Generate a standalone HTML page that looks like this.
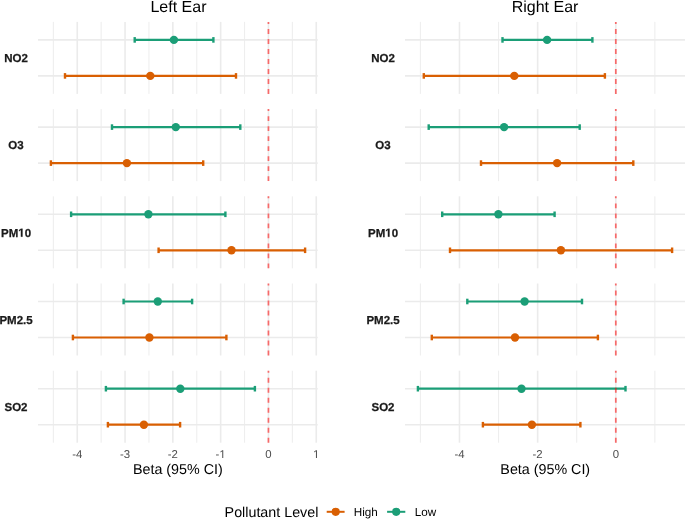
<!DOCTYPE html>
<html><head><meta charset="utf-8"><style>
html,body{margin:0;padding:0;background:#fff;}
body{width:685px;height:519px;overflow:hidden;}
svg{display:block;}
#w{will-change:transform;width:685px;height:519px;}
text{font-family:"Liberation Sans",sans-serif;text-rendering:geometricPrecision;}
.strip{font-size:11.5px;font-weight:bold;fill:#1A1A1A;stroke:#1A1A1A;stroke-width:0.25px;text-anchor:middle;}
.tick{font-size:11.4px;fill:#4D4D4D;text-anchor:middle;}
.axt{font-size:14.3px;fill:#000;text-anchor:middle;}
.ttl{font-size:16px;fill:#000;text-anchor:middle;}
.legt{font-size:14.3px;fill:#000;}
.legl{font-size:11.7px;fill:#000;}
</style></head><body><div id="w">
<svg width="685" height="519" viewBox="0 0 685 519">
<rect width="685" height="519" fill="#fff"/>
<line x1="53.35" y1="21.90" x2="53.35" y2="93.90" stroke="#EBEBEB" stroke-width="0.9"/>
<line x1="101.15" y1="21.90" x2="101.15" y2="93.90" stroke="#EBEBEB" stroke-width="0.9"/>
<line x1="148.95" y1="21.90" x2="148.95" y2="93.90" stroke="#EBEBEB" stroke-width="0.9"/>
<line x1="196.75" y1="21.90" x2="196.75" y2="93.90" stroke="#EBEBEB" stroke-width="0.9"/>
<line x1="244.55" y1="21.90" x2="244.55" y2="93.90" stroke="#EBEBEB" stroke-width="0.9"/>
<line x1="292.35" y1="21.90" x2="292.35" y2="93.90" stroke="#EBEBEB" stroke-width="0.9"/>
<line x1="77.25" y1="21.90" x2="77.25" y2="93.90" stroke="#EBEBEB" stroke-width="1.6"/>
<line x1="125.05" y1="21.90" x2="125.05" y2="93.90" stroke="#EBEBEB" stroke-width="1.6"/>
<line x1="172.85" y1="21.90" x2="172.85" y2="93.90" stroke="#EBEBEB" stroke-width="1.6"/>
<line x1="220.65" y1="21.90" x2="220.65" y2="93.90" stroke="#EBEBEB" stroke-width="1.6"/>
<line x1="268.45" y1="21.90" x2="268.45" y2="93.90" stroke="#EBEBEB" stroke-width="1.6"/>
<line x1="316.25" y1="21.90" x2="316.25" y2="93.90" stroke="#EBEBEB" stroke-width="1.6"/>
<line x1="38.00" y1="39.90" x2="317.70" y2="39.90" stroke="#EBEBEB" stroke-width="1.6"/>
<line x1="38.00" y1="75.90" x2="317.70" y2="75.90" stroke="#EBEBEB" stroke-width="1.6"/>
<text x="16.00" y="62.25" class="strip">NO2</text>
<line x1="134.70" y1="39.90" x2="213.40" y2="39.90" stroke="#1B9E77" stroke-width="2.2"/>
<line x1="134.70" y1="37.10" x2="134.70" y2="42.70" stroke="#1B9E77" stroke-width="2.4"/>
<line x1="213.40" y1="37.10" x2="213.40" y2="42.70" stroke="#1B9E77" stroke-width="2.4"/>
<circle cx="173.90" cy="39.90" r="4.2" fill="#1B9E77"/>
<line x1="65.00" y1="75.90" x2="236.00" y2="75.90" stroke="#D95F02" stroke-width="2.2"/>
<line x1="65.00" y1="73.10" x2="65.00" y2="78.70" stroke="#D95F02" stroke-width="2.4"/>
<line x1="236.00" y1="73.10" x2="236.00" y2="78.70" stroke="#D95F02" stroke-width="2.4"/>
<circle cx="150.30" cy="75.90" r="4.2" fill="#D95F02"/>
<line x1="268.45" y1="93.90" x2="268.45" y2="21.90" stroke="#FF0000" stroke-opacity="0.55" stroke-width="1.75" stroke-dasharray="4.9 5.1"/>
<line x1="53.35" y1="109.10" x2="53.35" y2="181.10" stroke="#EBEBEB" stroke-width="0.9"/>
<line x1="101.15" y1="109.10" x2="101.15" y2="181.10" stroke="#EBEBEB" stroke-width="0.9"/>
<line x1="148.95" y1="109.10" x2="148.95" y2="181.10" stroke="#EBEBEB" stroke-width="0.9"/>
<line x1="196.75" y1="109.10" x2="196.75" y2="181.10" stroke="#EBEBEB" stroke-width="0.9"/>
<line x1="244.55" y1="109.10" x2="244.55" y2="181.10" stroke="#EBEBEB" stroke-width="0.9"/>
<line x1="292.35" y1="109.10" x2="292.35" y2="181.10" stroke="#EBEBEB" stroke-width="0.9"/>
<line x1="77.25" y1="109.10" x2="77.25" y2="181.10" stroke="#EBEBEB" stroke-width="1.6"/>
<line x1="125.05" y1="109.10" x2="125.05" y2="181.10" stroke="#EBEBEB" stroke-width="1.6"/>
<line x1="172.85" y1="109.10" x2="172.85" y2="181.10" stroke="#EBEBEB" stroke-width="1.6"/>
<line x1="220.65" y1="109.10" x2="220.65" y2="181.10" stroke="#EBEBEB" stroke-width="1.6"/>
<line x1="268.45" y1="109.10" x2="268.45" y2="181.10" stroke="#EBEBEB" stroke-width="1.6"/>
<line x1="316.25" y1="109.10" x2="316.25" y2="181.10" stroke="#EBEBEB" stroke-width="1.6"/>
<line x1="38.00" y1="127.10" x2="317.70" y2="127.10" stroke="#EBEBEB" stroke-width="1.6"/>
<line x1="38.00" y1="163.10" x2="317.70" y2="163.10" stroke="#EBEBEB" stroke-width="1.6"/>
<text x="16.00" y="149.45" class="strip">O3</text>
<line x1="112.00" y1="127.10" x2="240.30" y2="127.10" stroke="#1B9E77" stroke-width="2.2"/>
<line x1="112.00" y1="124.30" x2="112.00" y2="129.90" stroke="#1B9E77" stroke-width="2.4"/>
<line x1="240.30" y1="124.30" x2="240.30" y2="129.90" stroke="#1B9E77" stroke-width="2.4"/>
<circle cx="175.80" cy="127.10" r="4.2" fill="#1B9E77"/>
<line x1="50.90" y1="163.10" x2="203.20" y2="163.10" stroke="#D95F02" stroke-width="2.2"/>
<line x1="50.90" y1="160.30" x2="50.90" y2="165.90" stroke="#D95F02" stroke-width="2.4"/>
<line x1="203.20" y1="160.30" x2="203.20" y2="165.90" stroke="#D95F02" stroke-width="2.4"/>
<circle cx="126.90" cy="163.10" r="4.2" fill="#D95F02"/>
<line x1="268.45" y1="181.10" x2="268.45" y2="109.10" stroke="#FF0000" stroke-opacity="0.55" stroke-width="1.75" stroke-dasharray="4.9 5.1"/>
<line x1="53.35" y1="196.30" x2="53.35" y2="268.30" stroke="#EBEBEB" stroke-width="0.9"/>
<line x1="101.15" y1="196.30" x2="101.15" y2="268.30" stroke="#EBEBEB" stroke-width="0.9"/>
<line x1="148.95" y1="196.30" x2="148.95" y2="268.30" stroke="#EBEBEB" stroke-width="0.9"/>
<line x1="196.75" y1="196.30" x2="196.75" y2="268.30" stroke="#EBEBEB" stroke-width="0.9"/>
<line x1="244.55" y1="196.30" x2="244.55" y2="268.30" stroke="#EBEBEB" stroke-width="0.9"/>
<line x1="292.35" y1="196.30" x2="292.35" y2="268.30" stroke="#EBEBEB" stroke-width="0.9"/>
<line x1="77.25" y1="196.30" x2="77.25" y2="268.30" stroke="#EBEBEB" stroke-width="1.6"/>
<line x1="125.05" y1="196.30" x2="125.05" y2="268.30" stroke="#EBEBEB" stroke-width="1.6"/>
<line x1="172.85" y1="196.30" x2="172.85" y2="268.30" stroke="#EBEBEB" stroke-width="1.6"/>
<line x1="220.65" y1="196.30" x2="220.65" y2="268.30" stroke="#EBEBEB" stroke-width="1.6"/>
<line x1="268.45" y1="196.30" x2="268.45" y2="268.30" stroke="#EBEBEB" stroke-width="1.6"/>
<line x1="316.25" y1="196.30" x2="316.25" y2="268.30" stroke="#EBEBEB" stroke-width="1.6"/>
<line x1="38.00" y1="214.30" x2="317.70" y2="214.30" stroke="#EBEBEB" stroke-width="1.6"/>
<line x1="38.00" y1="250.30" x2="317.70" y2="250.30" stroke="#EBEBEB" stroke-width="1.6"/>
<text x="0.979" y="236.65" class="strip" style="text-anchor:start">PM</text>
<path d="M478,0L478,1170L140,959L140,1180L493,1409L759,1409L759,0Z" transform="translate(18.229,236.650) scale(0.005615,-0.005615)" fill="#1A1A1A" stroke="#1A1A1A" stroke-width="44.5217"/>
<text x="24.625" y="236.65" class="strip" style="text-anchor:start">0</text>
<line x1="71.10" y1="214.30" x2="225.40" y2="214.30" stroke="#1B9E77" stroke-width="2.2"/>
<line x1="71.10" y1="211.50" x2="71.10" y2="217.10" stroke="#1B9E77" stroke-width="2.4"/>
<line x1="225.40" y1="211.50" x2="225.40" y2="217.10" stroke="#1B9E77" stroke-width="2.4"/>
<circle cx="148.40" cy="214.30" r="4.2" fill="#1B9E77"/>
<line x1="158.60" y1="250.30" x2="305.10" y2="250.30" stroke="#D95F02" stroke-width="2.2"/>
<line x1="158.60" y1="247.50" x2="158.60" y2="253.10" stroke="#D95F02" stroke-width="2.4"/>
<line x1="305.10" y1="247.50" x2="305.10" y2="253.10" stroke="#D95F02" stroke-width="2.4"/>
<circle cx="231.50" cy="250.30" r="4.2" fill="#D95F02"/>
<line x1="268.45" y1="268.30" x2="268.45" y2="196.30" stroke="#FF0000" stroke-opacity="0.55" stroke-width="1.75" stroke-dasharray="4.9 5.1"/>
<line x1="53.35" y1="283.50" x2="53.35" y2="355.50" stroke="#EBEBEB" stroke-width="0.9"/>
<line x1="101.15" y1="283.50" x2="101.15" y2="355.50" stroke="#EBEBEB" stroke-width="0.9"/>
<line x1="148.95" y1="283.50" x2="148.95" y2="355.50" stroke="#EBEBEB" stroke-width="0.9"/>
<line x1="196.75" y1="283.50" x2="196.75" y2="355.50" stroke="#EBEBEB" stroke-width="0.9"/>
<line x1="244.55" y1="283.50" x2="244.55" y2="355.50" stroke="#EBEBEB" stroke-width="0.9"/>
<line x1="292.35" y1="283.50" x2="292.35" y2="355.50" stroke="#EBEBEB" stroke-width="0.9"/>
<line x1="77.25" y1="283.50" x2="77.25" y2="355.50" stroke="#EBEBEB" stroke-width="1.6"/>
<line x1="125.05" y1="283.50" x2="125.05" y2="355.50" stroke="#EBEBEB" stroke-width="1.6"/>
<line x1="172.85" y1="283.50" x2="172.85" y2="355.50" stroke="#EBEBEB" stroke-width="1.6"/>
<line x1="220.65" y1="283.50" x2="220.65" y2="355.50" stroke="#EBEBEB" stroke-width="1.6"/>
<line x1="268.45" y1="283.50" x2="268.45" y2="355.50" stroke="#EBEBEB" stroke-width="1.6"/>
<line x1="316.25" y1="283.50" x2="316.25" y2="355.50" stroke="#EBEBEB" stroke-width="1.6"/>
<line x1="38.00" y1="301.50" x2="317.70" y2="301.50" stroke="#EBEBEB" stroke-width="1.6"/>
<line x1="38.00" y1="337.50" x2="317.70" y2="337.50" stroke="#EBEBEB" stroke-width="1.6"/>
<text x="16.00" y="323.85" class="strip">PM2.5</text>
<line x1="123.60" y1="301.50" x2="192.10" y2="301.50" stroke="#1B9E77" stroke-width="2.2"/>
<line x1="123.60" y1="298.70" x2="123.60" y2="304.30" stroke="#1B9E77" stroke-width="2.4"/>
<line x1="192.10" y1="298.70" x2="192.10" y2="304.30" stroke="#1B9E77" stroke-width="2.4"/>
<circle cx="157.80" cy="301.50" r="4.2" fill="#1B9E77"/>
<line x1="72.90" y1="337.50" x2="226.40" y2="337.50" stroke="#D95F02" stroke-width="2.2"/>
<line x1="72.90" y1="334.70" x2="72.90" y2="340.30" stroke="#D95F02" stroke-width="2.4"/>
<line x1="226.40" y1="334.70" x2="226.40" y2="340.30" stroke="#D95F02" stroke-width="2.4"/>
<circle cx="149.40" cy="337.50" r="4.2" fill="#D95F02"/>
<line x1="268.45" y1="355.50" x2="268.45" y2="283.50" stroke="#FF0000" stroke-opacity="0.55" stroke-width="1.75" stroke-dasharray="4.9 5.1"/>
<line x1="53.35" y1="370.70" x2="53.35" y2="442.70" stroke="#EBEBEB" stroke-width="0.9"/>
<line x1="101.15" y1="370.70" x2="101.15" y2="442.70" stroke="#EBEBEB" stroke-width="0.9"/>
<line x1="148.95" y1="370.70" x2="148.95" y2="442.70" stroke="#EBEBEB" stroke-width="0.9"/>
<line x1="196.75" y1="370.70" x2="196.75" y2="442.70" stroke="#EBEBEB" stroke-width="0.9"/>
<line x1="244.55" y1="370.70" x2="244.55" y2="442.70" stroke="#EBEBEB" stroke-width="0.9"/>
<line x1="292.35" y1="370.70" x2="292.35" y2="442.70" stroke="#EBEBEB" stroke-width="0.9"/>
<line x1="77.25" y1="370.70" x2="77.25" y2="442.70" stroke="#EBEBEB" stroke-width="1.6"/>
<line x1="125.05" y1="370.70" x2="125.05" y2="442.70" stroke="#EBEBEB" stroke-width="1.6"/>
<line x1="172.85" y1="370.70" x2="172.85" y2="442.70" stroke="#EBEBEB" stroke-width="1.6"/>
<line x1="220.65" y1="370.70" x2="220.65" y2="442.70" stroke="#EBEBEB" stroke-width="1.6"/>
<line x1="268.45" y1="370.70" x2="268.45" y2="442.70" stroke="#EBEBEB" stroke-width="1.6"/>
<line x1="316.25" y1="370.70" x2="316.25" y2="442.70" stroke="#EBEBEB" stroke-width="1.6"/>
<line x1="38.00" y1="388.70" x2="317.70" y2="388.70" stroke="#EBEBEB" stroke-width="1.6"/>
<line x1="38.00" y1="424.70" x2="317.70" y2="424.70" stroke="#EBEBEB" stroke-width="1.6"/>
<text x="16.00" y="411.05" class="strip">SO2</text>
<line x1="105.90" y1="388.70" x2="254.90" y2="388.70" stroke="#1B9E77" stroke-width="2.2"/>
<line x1="105.90" y1="385.90" x2="105.90" y2="391.50" stroke="#1B9E77" stroke-width="2.4"/>
<line x1="254.90" y1="385.90" x2="254.90" y2="391.50" stroke="#1B9E77" stroke-width="2.4"/>
<circle cx="180.30" cy="388.70" r="4.2" fill="#1B9E77"/>
<line x1="107.90" y1="424.70" x2="180.10" y2="424.70" stroke="#D95F02" stroke-width="2.2"/>
<line x1="107.90" y1="421.90" x2="107.90" y2="427.50" stroke="#D95F02" stroke-width="2.4"/>
<line x1="180.10" y1="421.90" x2="180.10" y2="427.50" stroke="#D95F02" stroke-width="2.4"/>
<circle cx="143.90" cy="424.70" r="4.2" fill="#D95F02"/>
<line x1="268.45" y1="442.70" x2="268.45" y2="370.70" stroke="#FF0000" stroke-opacity="0.55" stroke-width="1.75" stroke-dasharray="4.9 5.1"/>
<text x="77.25" y="458.1" class="tick">-4</text>
<text x="125.05" y="458.1" class="tick">-3</text>
<text x="172.85" y="458.1" class="tick">-2</text>
<text x="215.582" y="458.1" class="tick" style="text-anchor:start">-</text>
<path d="M515,0L515,1237L197,1010L197,1180L530,1409L696,1409L696,0Z" transform="translate(219.378,458.100) scale(0.005566,-0.005566)" fill="#4D4D4D"/>
<text x="268.45" y="458.1" class="tick">0</text>
<path d="M515,0L515,1237L197,1010L197,1180L530,1409L696,1409L696,0Z" transform="translate(313.080,458.100) scale(0.005566,-0.005566)" fill="#4D4D4D"/>
<text x="177.85" y="474.3" class="axt">Beta (95% CI)</text>
<text x="178.45" y="11.5" class="ttl">Left Ear</text>
<line x1="420.40" y1="21.90" x2="420.40" y2="93.90" stroke="#EBEBEB" stroke-width="0.9"/>
<line x1="498.56" y1="21.90" x2="498.56" y2="93.90" stroke="#EBEBEB" stroke-width="0.9"/>
<line x1="576.72" y1="21.90" x2="576.72" y2="93.90" stroke="#EBEBEB" stroke-width="0.9"/>
<line x1="654.88" y1="21.90" x2="654.88" y2="93.90" stroke="#EBEBEB" stroke-width="0.9"/>
<line x1="459.48" y1="21.90" x2="459.48" y2="93.90" stroke="#EBEBEB" stroke-width="1.6"/>
<line x1="537.64" y1="21.90" x2="537.64" y2="93.90" stroke="#EBEBEB" stroke-width="1.6"/>
<line x1="615.80" y1="21.90" x2="615.80" y2="93.90" stroke="#EBEBEB" stroke-width="1.6"/>
<line x1="405.00" y1="39.90" x2="685.50" y2="39.90" stroke="#EBEBEB" stroke-width="1.6"/>
<line x1="405.00" y1="75.90" x2="685.50" y2="75.90" stroke="#EBEBEB" stroke-width="1.6"/>
<text x="383.00" y="62.25" class="strip">NO2</text>
<line x1="502.50" y1="39.90" x2="592.40" y2="39.90" stroke="#1B9E77" stroke-width="2.2"/>
<line x1="502.50" y1="37.10" x2="502.50" y2="42.70" stroke="#1B9E77" stroke-width="2.4"/>
<line x1="592.40" y1="37.10" x2="592.40" y2="42.70" stroke="#1B9E77" stroke-width="2.4"/>
<circle cx="547.10" cy="39.90" r="4.2" fill="#1B9E77"/>
<line x1="423.80" y1="75.90" x2="604.90" y2="75.90" stroke="#D95F02" stroke-width="2.2"/>
<line x1="423.80" y1="73.10" x2="423.80" y2="78.70" stroke="#D95F02" stroke-width="2.4"/>
<line x1="604.90" y1="73.10" x2="604.90" y2="78.70" stroke="#D95F02" stroke-width="2.4"/>
<circle cx="514.30" cy="75.90" r="4.2" fill="#D95F02"/>
<line x1="615.80" y1="93.90" x2="615.80" y2="21.90" stroke="#FF0000" stroke-opacity="0.55" stroke-width="1.75" stroke-dasharray="4.9 5.1"/>
<line x1="420.40" y1="109.10" x2="420.40" y2="181.10" stroke="#EBEBEB" stroke-width="0.9"/>
<line x1="498.56" y1="109.10" x2="498.56" y2="181.10" stroke="#EBEBEB" stroke-width="0.9"/>
<line x1="576.72" y1="109.10" x2="576.72" y2="181.10" stroke="#EBEBEB" stroke-width="0.9"/>
<line x1="654.88" y1="109.10" x2="654.88" y2="181.10" stroke="#EBEBEB" stroke-width="0.9"/>
<line x1="459.48" y1="109.10" x2="459.48" y2="181.10" stroke="#EBEBEB" stroke-width="1.6"/>
<line x1="537.64" y1="109.10" x2="537.64" y2="181.10" stroke="#EBEBEB" stroke-width="1.6"/>
<line x1="615.80" y1="109.10" x2="615.80" y2="181.10" stroke="#EBEBEB" stroke-width="1.6"/>
<line x1="405.00" y1="127.10" x2="685.50" y2="127.10" stroke="#EBEBEB" stroke-width="1.6"/>
<line x1="405.00" y1="163.10" x2="685.50" y2="163.10" stroke="#EBEBEB" stroke-width="1.6"/>
<text x="383.00" y="149.45" class="strip">O3</text>
<line x1="428.70" y1="127.10" x2="579.70" y2="127.10" stroke="#1B9E77" stroke-width="2.2"/>
<line x1="428.70" y1="124.30" x2="428.70" y2="129.90" stroke="#1B9E77" stroke-width="2.4"/>
<line x1="579.70" y1="124.30" x2="579.70" y2="129.90" stroke="#1B9E77" stroke-width="2.4"/>
<circle cx="504.10" cy="127.10" r="4.2" fill="#1B9E77"/>
<line x1="481.00" y1="163.10" x2="633.30" y2="163.10" stroke="#D95F02" stroke-width="2.2"/>
<line x1="481.00" y1="160.30" x2="481.00" y2="165.90" stroke="#D95F02" stroke-width="2.4"/>
<line x1="633.30" y1="160.30" x2="633.30" y2="165.90" stroke="#D95F02" stroke-width="2.4"/>
<circle cx="557.10" cy="163.10" r="4.2" fill="#D95F02"/>
<line x1="615.80" y1="181.10" x2="615.80" y2="109.10" stroke="#FF0000" stroke-opacity="0.55" stroke-width="1.75" stroke-dasharray="4.9 5.1"/>
<line x1="420.40" y1="196.30" x2="420.40" y2="268.30" stroke="#EBEBEB" stroke-width="0.9"/>
<line x1="498.56" y1="196.30" x2="498.56" y2="268.30" stroke="#EBEBEB" stroke-width="0.9"/>
<line x1="576.72" y1="196.30" x2="576.72" y2="268.30" stroke="#EBEBEB" stroke-width="0.9"/>
<line x1="654.88" y1="196.30" x2="654.88" y2="268.30" stroke="#EBEBEB" stroke-width="0.9"/>
<line x1="459.48" y1="196.30" x2="459.48" y2="268.30" stroke="#EBEBEB" stroke-width="1.6"/>
<line x1="537.64" y1="196.30" x2="537.64" y2="268.30" stroke="#EBEBEB" stroke-width="1.6"/>
<line x1="615.80" y1="196.30" x2="615.80" y2="268.30" stroke="#EBEBEB" stroke-width="1.6"/>
<line x1="405.00" y1="214.30" x2="685.50" y2="214.30" stroke="#EBEBEB" stroke-width="1.6"/>
<line x1="405.00" y1="250.30" x2="685.50" y2="250.30" stroke="#EBEBEB" stroke-width="1.6"/>
<text x="367.979" y="236.65" class="strip" style="text-anchor:start">PM</text>
<path d="M478,0L478,1170L140,959L140,1180L493,1409L759,1409L759,0Z" transform="translate(385.229,236.650) scale(0.005615,-0.005615)" fill="#1A1A1A" stroke="#1A1A1A" stroke-width="44.5217"/>
<text x="391.625" y="236.65" class="strip" style="text-anchor:start">0</text>
<line x1="442.20" y1="214.30" x2="554.60" y2="214.30" stroke="#1B9E77" stroke-width="2.2"/>
<line x1="442.20" y1="211.50" x2="442.20" y2="217.10" stroke="#1B9E77" stroke-width="2.4"/>
<line x1="554.60" y1="211.50" x2="554.60" y2="217.10" stroke="#1B9E77" stroke-width="2.4"/>
<circle cx="498.40" cy="214.30" r="4.2" fill="#1B9E77"/>
<line x1="450.00" y1="250.30" x2="672.10" y2="250.30" stroke="#D95F02" stroke-width="2.2"/>
<line x1="450.00" y1="247.50" x2="450.00" y2="253.10" stroke="#D95F02" stroke-width="2.4"/>
<line x1="672.10" y1="247.50" x2="672.10" y2="253.10" stroke="#D95F02" stroke-width="2.4"/>
<circle cx="560.90" cy="250.30" r="4.2" fill="#D95F02"/>
<line x1="615.80" y1="268.30" x2="615.80" y2="196.30" stroke="#FF0000" stroke-opacity="0.55" stroke-width="1.75" stroke-dasharray="4.9 5.1"/>
<line x1="420.40" y1="283.50" x2="420.40" y2="355.50" stroke="#EBEBEB" stroke-width="0.9"/>
<line x1="498.56" y1="283.50" x2="498.56" y2="355.50" stroke="#EBEBEB" stroke-width="0.9"/>
<line x1="576.72" y1="283.50" x2="576.72" y2="355.50" stroke="#EBEBEB" stroke-width="0.9"/>
<line x1="654.88" y1="283.50" x2="654.88" y2="355.50" stroke="#EBEBEB" stroke-width="0.9"/>
<line x1="459.48" y1="283.50" x2="459.48" y2="355.50" stroke="#EBEBEB" stroke-width="1.6"/>
<line x1="537.64" y1="283.50" x2="537.64" y2="355.50" stroke="#EBEBEB" stroke-width="1.6"/>
<line x1="615.80" y1="283.50" x2="615.80" y2="355.50" stroke="#EBEBEB" stroke-width="1.6"/>
<line x1="405.00" y1="301.50" x2="685.50" y2="301.50" stroke="#EBEBEB" stroke-width="1.6"/>
<line x1="405.00" y1="337.50" x2="685.50" y2="337.50" stroke="#EBEBEB" stroke-width="1.6"/>
<text x="383.00" y="323.85" class="strip">PM2.5</text>
<line x1="467.30" y1="301.50" x2="582.00" y2="301.50" stroke="#1B9E77" stroke-width="2.2"/>
<line x1="467.30" y1="298.70" x2="467.30" y2="304.30" stroke="#1B9E77" stroke-width="2.4"/>
<line x1="582.00" y1="298.70" x2="582.00" y2="304.30" stroke="#1B9E77" stroke-width="2.4"/>
<circle cx="524.60" cy="301.50" r="4.2" fill="#1B9E77"/>
<line x1="431.80" y1="337.50" x2="597.90" y2="337.50" stroke="#D95F02" stroke-width="2.2"/>
<line x1="431.80" y1="334.70" x2="431.80" y2="340.30" stroke="#D95F02" stroke-width="2.4"/>
<line x1="597.90" y1="334.70" x2="597.90" y2="340.30" stroke="#D95F02" stroke-width="2.4"/>
<circle cx="515.00" cy="337.50" r="4.2" fill="#D95F02"/>
<line x1="615.80" y1="355.50" x2="615.80" y2="283.50" stroke="#FF0000" stroke-opacity="0.55" stroke-width="1.75" stroke-dasharray="4.9 5.1"/>
<line x1="420.40" y1="370.70" x2="420.40" y2="442.70" stroke="#EBEBEB" stroke-width="0.9"/>
<line x1="498.56" y1="370.70" x2="498.56" y2="442.70" stroke="#EBEBEB" stroke-width="0.9"/>
<line x1="576.72" y1="370.70" x2="576.72" y2="442.70" stroke="#EBEBEB" stroke-width="0.9"/>
<line x1="654.88" y1="370.70" x2="654.88" y2="442.70" stroke="#EBEBEB" stroke-width="0.9"/>
<line x1="459.48" y1="370.70" x2="459.48" y2="442.70" stroke="#EBEBEB" stroke-width="1.6"/>
<line x1="537.64" y1="370.70" x2="537.64" y2="442.70" stroke="#EBEBEB" stroke-width="1.6"/>
<line x1="615.80" y1="370.70" x2="615.80" y2="442.70" stroke="#EBEBEB" stroke-width="1.6"/>
<line x1="405.00" y1="388.70" x2="685.50" y2="388.70" stroke="#EBEBEB" stroke-width="1.6"/>
<line x1="405.00" y1="424.70" x2="685.50" y2="424.70" stroke="#EBEBEB" stroke-width="1.6"/>
<text x="383.00" y="411.05" class="strip">SO2</text>
<line x1="417.90" y1="388.70" x2="625.50" y2="388.70" stroke="#1B9E77" stroke-width="2.2"/>
<line x1="417.90" y1="385.90" x2="417.90" y2="391.50" stroke="#1B9E77" stroke-width="2.4"/>
<line x1="625.50" y1="385.90" x2="625.50" y2="391.50" stroke="#1B9E77" stroke-width="2.4"/>
<circle cx="521.50" cy="388.70" r="4.2" fill="#1B9E77"/>
<line x1="482.90" y1="424.70" x2="580.40" y2="424.70" stroke="#D95F02" stroke-width="2.2"/>
<line x1="482.90" y1="421.90" x2="482.90" y2="427.50" stroke="#D95F02" stroke-width="2.4"/>
<line x1="580.40" y1="421.90" x2="580.40" y2="427.50" stroke="#D95F02" stroke-width="2.4"/>
<circle cx="531.90" cy="424.70" r="4.2" fill="#D95F02"/>
<line x1="615.80" y1="442.70" x2="615.80" y2="370.70" stroke="#FF0000" stroke-opacity="0.55" stroke-width="1.75" stroke-dasharray="4.9 5.1"/>
<text x="459.48" y="458.1" class="tick">-4</text>
<text x="537.64" y="458.1" class="tick">-2</text>
<text x="615.80" y="458.1" class="tick">0</text>
<text x="545.25" y="474.3" class="axt">Beta (95% CI)</text>
<text x="545.05" y="11.5" class="ttl">Right Ear</text>
<text x="224.6" y="516.9" class="legt">Pollutant Level</text>
<line x1="326.7" y1="511.8" x2="344.6" y2="511.8" stroke="#D95F02" stroke-width="2"/>
<circle cx="335.7" cy="511.8" r="4.1" fill="#D95F02"/>
<text x="353.8" y="516.0" class="legl">High</text>
<line x1="387.1" y1="511.8" x2="405.3" y2="511.8" stroke="#1B9E77" stroke-width="2"/>
<circle cx="396.2" cy="511.8" r="4.1" fill="#1B9E77"/>
<text x="414.7" y="516.0" class="legl">Low</text>
</svg>
</div></body></html>
